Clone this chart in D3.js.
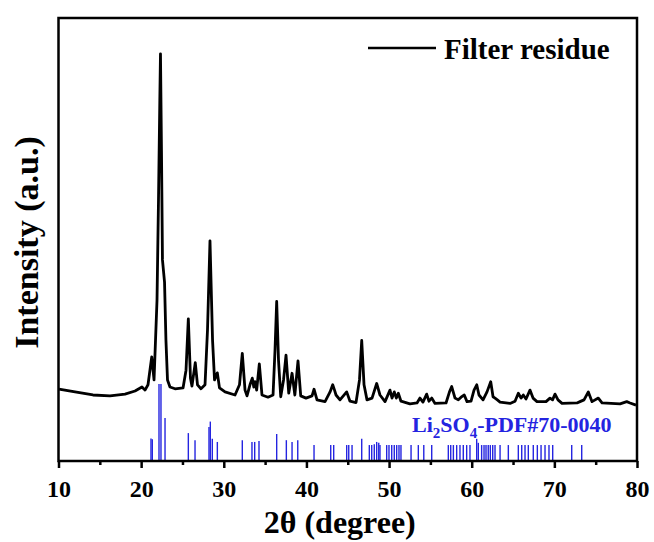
<!DOCTYPE html>
<html>
<head>
<meta charset="utf-8">
<script src="https://cdn.jsdelivr.net/npm/d3@7/dist/d3.min.js"></script>
<style>
  body { margin: 0; background: #fff; }
  text { font-family: "Liberation Serif", "Times New Roman", serif; font-weight: bold; }
</style>
</head>
<body>
<script>
// measured pattern (2theta, intensity a.u.)
var twoTheta = [10.06,12.0,14.17,16.23,18.05,19.26,20.1,20.47,20.83,21.28,21.56,21.92,22.1,22.26,22.34,22.46,22.58,22.83,23.0,23.19,23.49,24.1,25.07,25.43,25.71,25.97,26.15,26.55,26.82,27.24,27.73,28.03,28.33,28.64,28.88,29.22,29.48,30.15,31.36,31.9,32.24,32.57,32.81,33.17,33.45,33.63,33.78,33.98,34.3,34.62,35.35,35.96,36.2,36.4,36.62,36.89,37.23,37.53,37.86,38.26,38.6,38.98,39.31,39.95,40.68,40.92,41.28,42.25,42.86,43.18,43.4,43.58,44.06,44.87,45.27,46.0,46.42,46.69,46.97,47.33,47.94,48.5,48.9,49.51,50.11,50.36,50.63,50.88,51.12,51.44,52.53,53.38,53.74,54.1,54.55,54.83,55.16,55.56,56.89,57.31,57.58,57.98,58.38,58.71,59.1,59.43,59.92,60.28,60.61,60.88,61.37,61.85,62.3,62.58,62.82,63.1,63.43,64.64,65.24,65.64,65.97,66.24,66.57,67.05,67.42,67.9,68.99,69.47,69.78,70.08,70.44,70.93,72.74,73.1,73.59,74.11,74.56,75.32,75.77,77.95,78.76,79.16,79.88];
var intensity = [16.25,15.6,14.9,14.7,15.1,15.8,16.7,16.0,17.2,23.5,18.3,36.3,58.9,81.5,91.9,70.2,45.4,40.4,27.3,18.3,16.7,16.3,16.5,20.5,32.1,18.7,16.9,22.2,17.2,16.3,17.2,29.6,49.7,27.3,18.3,19.9,16.5,15.6,14.9,17.2,24.3,16.0,14.7,17.2,18.7,16.7,17.9,16.0,21.9,14.9,14.4,14.9,25.1,36.0,22.8,14.5,18.3,23.9,15.3,19.8,14.9,22.6,14.7,14.2,14.7,16.2,13.8,13.4,15.6,17.2,16.0,14.9,13.8,15.6,13.5,13.2,18.3,27.2,17.2,13.8,14.2,17.5,14.9,13.4,16.0,14.2,15.6,14.2,15.3,13.5,12.9,13.1,14.2,13.3,15.1,13.5,14.2,13.0,13.1,15.6,16.8,14.2,13.8,14.4,14.9,13.4,13.5,16.0,17.2,14.9,13.8,15.6,17.9,14.5,14.2,13.8,13.3,13.0,13.5,15.3,14.2,14.9,14.0,16.0,14.2,13.4,13.4,14.2,13.8,15.1,13.8,13.0,13.1,13.4,13.8,15.6,13.4,14.2,13.1,12.9,13.4,13.1,12.6];

// Li2SO4 PDF#70-0040 reference lines
var refPos = [21.19,21.35,22.16,22.4,22.89,25.71,26.52,28.21,28.37,28.61,29.22,32.24,33.41,33.74,34.26,36.4,37.57,38.26,38.95,40.92,42.94,43.3,44.87,45.12,45.52,46.69,47.61,47.9,48.21,48.5,48.75,48.9,49.71,49.99,50.32,50.63,50.92,51.2,51.44,52.66,53.54,54.2,55.16,57.17,57.46,57.78,58.18,58.58,58.98,59.39,59.79,60.6,60.8,61.2,61.49,61.73,62.0,62.25,62.54,62.82,63.43,64.43,65.64,66.05,66.45,66.85,67.45,67.94,68.39,68.87,69.35,69.8,72.1,73.31];
var refInt = [5.1,4.9,17.4,17.4,9.7,6.3,4.7,7.7,8.9,5.0,4.3,4.7,4.3,4.3,4.5,6.1,4.7,4.3,4.7,3.6,3.6,3.6,3.6,3.6,3.6,5.0,3.6,3.6,3.8,4.3,4.1,3.6,3.6,3.6,3.6,3.6,3.6,3.6,3.6,3.6,3.6,3.6,3.6,3.6,3.6,3.6,3.6,3.6,3.6,3.6,3.6,5.0,4.1,3.6,3.6,3.6,3.6,3.6,3.6,3.6,3.6,3.6,3.6,3.6,3.6,3.6,3.6,3.6,3.6,3.6,3.6,3.6,3.6,3.6];

var xMajor = [10, 20, 30, 40, 50, 60, 70, 80];
var xMinor = [15, 25, 35, 45, 55, 65, 75];

var svgWidth = 654, svgHeight = 542;
var margin = {top: 18, right: 17, bottom: 81, left: 58.5};
var width = svgWidth - margin.left - margin.right;
var height = svgHeight - margin.top - margin.bottom;
var blue = "#2424e0";

var svg = d3.select("body").append("svg")
  .attr("width", svgWidth)
  .attr("height", svgHeight);

var g = svg.append("g")
  .attr("transform", `translate(${margin.left}, ${margin.top})`);

var x = d3.scaleLinear().domain([10, 80]).range([0, width]);
var y = d3.scaleLinear().domain([0, 100]).range([height, 0]);

// reference sticks
g.selectAll(".stick")
  .data(refPos)
  .enter()
  .append("line")
  .attr("x1", d => x(d))
  .attr("x2", d => x(d))
  .attr("y1", y(0))
  .attr("y2", (d, i) => y(refInt[i]))
  .attr("stroke", blue)
  .attr("stroke-width", 1.4);

// measured trace
var pts = twoTheta.map((t, i) => [t, intensity[i]]);
var line = d3.line().x(d => x(d[0])).y(d => y(d[1]));
g.append("path")
  .datum(pts)
  .attr("d", line)
  .attr("fill", "none")
  .attr("stroke", "#000")
  .attr("stroke-width", 2.8)
  .attr("stroke-linejoin", "round");

// frame
g.append("rect")
  .attr("width", width)
  .attr("height", height)
  .attr("fill", "none")
  .attr("stroke", "#000")
  .attr("stroke-width", 2.5);

// bottom axis
var bottomAxis = d3.axisBottom(x)
  .tickValues(xMajor)
  .tickSize(7)
  .tickPadding(12)
  .tickFormat(d3.format("d"));
var ax = g.append("g")
  .attr("transform", `translate(0, ${height})`)
  .call(bottomAxis);
ax.select(".domain").remove();
ax.selectAll("line").attr("stroke-width", 2.5);
ax.selectAll("text")
  .style("font-size", "24px")
  .style("font-family", "'Liberation Serif', serif")
  .style("font-weight", "bold")
  .attr("fill", "#000");

var minorAxis = d3.axisBottom(x)
  .tickValues(xMinor)
  .tickSize(4)
  .tickFormat("");
var mx = g.append("g")
  .attr("transform", `translate(0, ${height})`)
  .call(minorAxis);
mx.select(".domain").remove();
mx.selectAll("line").attr("stroke-width", 2.5);

// axis titles
svg.append("text")
  .attr("x", margin.left + width / 2 - 8)
  .attr("y", 533)
  .attr("text-anchor", "middle")
  .style("font-size", "32px")
  .text("2θ (degree)");

svg.append("text")
  .attr("transform", `translate(38, ${margin.top + height / 2 + 3}) rotate(-90)`)
  .attr("text-anchor", "middle")
  .style("font-size", "34px")
  .text("Intensity (a.u.)");

// legend
svg.append("line")
  .attr("x1", 368).attr("x2", 436)
  .attr("y1", 48).attr("y2", 48)
  .attr("stroke", "#000")
  .attr("stroke-width", 2.5);
svg.append("text")
  .attr("x", 444)
  .attr("y", 59)
  .style("font-size", "29px")
  .text("Filter residue");

// reference label
var lab = svg.append("text")
  .attr("x", 412)
  .attr("y", 432)
  .attr("fill", blue)
  .style("font-size", "22px");
lab.append("tspan").text("Li");
lab.append("tspan").attr("dy", 6).style("font-size", "15px").text("2");
lab.append("tspan").attr("dy", -6).text("SO");
lab.append("tspan").attr("dy", 6).style("font-size", "15px").text("4");
lab.append("tspan").attr("dy", -6).text("-PDF#70-0040");
</script>
</body>
</html>
